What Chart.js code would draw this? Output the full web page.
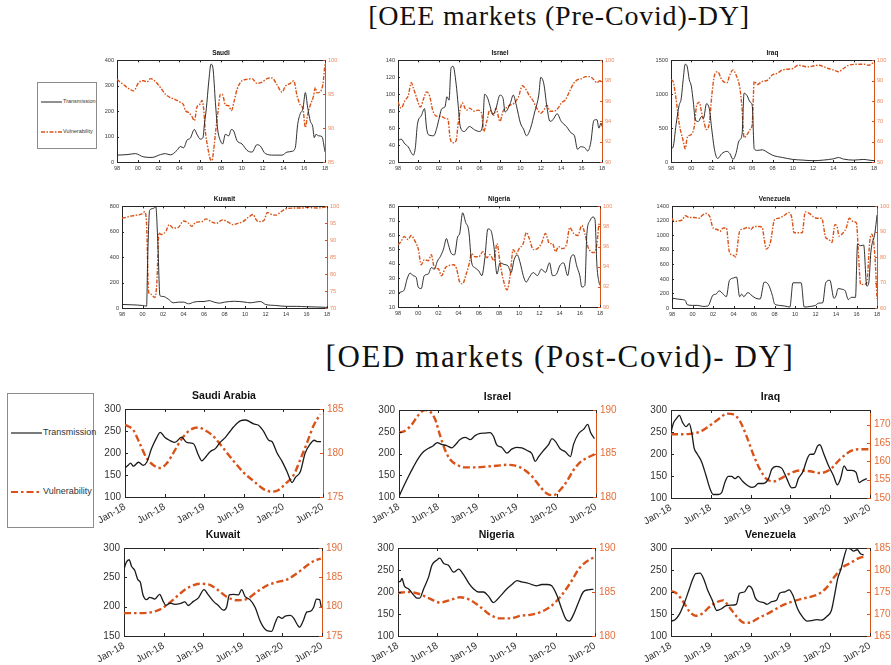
<!DOCTYPE html>
<html>
<head>
<meta charset="utf-8">
<script src="https://cdn.jsdelivr.net/npm/chart.js@4.4.1/dist/chart.umd.min.js"></script>
<style>
  body { margin: 0; width: 891px; height: 665px; background: #fff; position: relative; overflow: hidden; font-family: "Liberation Sans", Arial, sans-serif; }
  .pane { position: absolute; }
  .ttl { position: absolute; font-weight: bold; color: #111; white-space: nowrap; transform: translateX(-50%); }
  .head { position: absolute; font-family: "Liberation Serif", serif; color: #111; white-space: nowrap; transform: translateX(-50%); }
  .lg { position: absolute; border: 1px solid #8c8c8c; background: #fff; box-sizing: border-box; }
  .lg .row { position: absolute; white-space: nowrap; color: #333; }
  .lg svg { position: absolute; overflow: visible; }
</style>
</head>
<body>
<div class="head" style="left:559px;top:0px;font-size:28px;letter-spacing:0.8px;">[OEE markets (Pre-Covid)-DY]</div>
<div class="head" style="left:560px;top:339px;font-size:31px;letter-spacing:1.6px;">[OED markets (Post-Covid)- DY]</div>

<div class="lg" style="left:37px;top:82px;width:60px;height:67px;">
  <svg style="left:3px;top:18px" width="22" height="2"><line x1="0" y1="1" x2="21" y2="1" stroke="#222" stroke-width="1"/></svg>
  <div class="row" style="left:25px;top:15px;font-size:5.5px;">Transmission</div>
  <svg style="left:3px;top:48px" width="22" height="2"><line x1="0" y1="1" x2="21" y2="1" stroke="#D95319" stroke-width="1.4" stroke-dasharray="4,1.5,1.5,1.5"/></svg>
  <div class="row" style="left:25px;top:45px;font-size:5.5px;">Vulnerability</div>
</div>

<div class="lg" style="left:7px;top:393px;width:87px;height:135px;">
  <svg style="left:3px;top:38px" width="32" height="2"><line x1="0" y1="1" x2="31" y2="1" stroke="#222" stroke-width="1.2"/></svg>
  <div class="row" style="left:35px;top:33px;font-size:9px;">Transmission</div>
  <svg style="left:3px;top:97px" width="32" height="2"><line x1="0" y1="1" x2="31" y2="1" stroke="#D95319" stroke-width="2.2" stroke-dasharray="7,3,2.5,3"/></svg>
  <div class="row" style="left:35px;top:92px;font-size:9px;">Vulnerability</div>
</div>

<script>
// ---------- DATA: PRE-COVID (x = year) ----------
var oeeTickYears = [1998, 2000, 2002, 2004, 2006, 2008, 2010, 2012, 2014, 2016, 2018];
var oeeTickLabels = ['98', '00', '02', '04', '06', '08', '10', '12', '14', '16', '18'];

var saudiTrans = [[1998.0,27],[1998.96,29],[1999.76,33],[2000.56,20],[2001.37,18],[2002.17,29],[2002.65,33],[2003.13,28],[2003.77,46],[2004.09,61],[2004.41,56],[2004.73,86],[2005.05,94],[2005.44,128],[2005.69,109],[2006.01,90],[2006.27,96],[2006.4,147],[2006.59,210],[2006.81,311],[2007.04,385],[2007.23,368],[2007.46,235],[2007.68,128],[2007.94,84],[2008.16,71],[2008.42,109],[2008.74,103],[2009.0,128],[2009.22,122],[2009.54,84],[2010.02,71],[2010.5,46],[2010.98,39],[2011.46,68],[2011.78,63],[2012.26,33],[2013.06,27],[2013.87,27],[2014.35,39],[2014.83,42],[2015.15,58],[2015.37,147],[2015.63,191],[2015.88,210],[2016.11,273],[2016.33,216],[2016.59,160],[2016.81,141],[2016.97,96],[2017.13,109],[2017.39,103],[2017.7,100],[2018.0,40]];
var saudiVuln = [[1998.0,97.2],[1998.64,96.4],[1999.28,95.7],[1999.6,95.5],[2000.08,96.7],[2000.56,97.0],[2000.88,96.8],[2001.21,97.3],[2001.69,96.9],[2002.17,96.0],[2002.65,95.0],[2003.13,94.5],[2003.61,94.2],[2004.09,93.8],[2004.41,93.4],[2004.57,92.6],[2004.89,92.3],[2005.21,91.7],[2005.44,91.1],[2005.69,93.1],[2006.01,93.6],[2006.17,94.1],[2006.33,92.9],[2006.49,89.6],[2006.72,87.2],[2006.97,85.4],[2007.13,85.2],[2007.29,86.7],[2007.52,90.0],[2007.71,92.4],[2007.94,95.0],[2008.16,94.9],[2008.42,93.4],[2008.74,93.3],[2009.0,92.6],[2009.28,94.1],[2009.54,95.7],[2010.02,97.0],[2010.5,97.2],[2010.98,97.3],[2011.46,96.6],[2011.94,96.8],[2012.42,97.3],[2012.9,97.4],[2013.38,96.4],[2013.87,95.3],[2014.19,96.2],[2014.67,96.6],[2014.99,97.0],[2015.31,94.8],[2015.63,93.4],[2015.88,92.9],[2016.11,90.1],[2016.33,92.0],[2016.59,93.4],[2016.91,94.8],[2017.07,96.0],[2017.23,95.2],[2017.49,95.3],[2017.8,96.5],[2018.0,99.5]];

var israelTrans = [[1998.0,45],[1998.3,47],[1998.7,41],[1999.0,38],[1999.3,31],[1999.5,28],[1999.7,37],[1999.9,64],[2000.3,75],[2000.6,83],[2000.8,60],[2001.0,52],[2001.5,51],[2001.8,60],[2002.0,70],[2002.3,83],[2002.6,85],[2002.8,97],[2003.0,93],[2003.2,131],[2003.4,133],[2003.7,112],[2003.9,87],[2004.1,62],[2004.5,56],[2005.0,62],[2005.5,58],[2006.0,56],[2006.3,64],[2006.5,100],[2006.8,95],[2007.0,87],[2007.3,76],[2007.6,83],[2008.0,99],[2008.3,95],[2008.5,79],[2009.0,89],[2009.3,99],[2009.6,87],[2010.0,66],[2010.3,59],[2010.6,51],[2011.0,60],[2011.4,79],[2011.8,99],[2012.0,120],[2012.3,112],[2012.6,85],[2012.9,68],[2013.2,70],[2013.6,77],[2014.0,68],[2014.5,62],[2015.0,54],[2015.3,51],[2015.6,35],[2015.9,38],[2016.3,37],[2016.6,33],[2016.9,43],[2017.2,69],[2017.5,70],[2017.7,60],[2017.9,66],[2018.0,62]];
var israelVuln = [[1998.0,95.9],[1998.3,95.3],[1998.7,96.1],[1999.0,96.5],[1999.3,97.8],[1999.5,97.3],[1999.8,96.4],[2000.2,95.4],[2000.5,96.2],[2000.8,96.9],[2001.1,96.5],[2001.4,95.1],[2001.8,94.5],[2002.2,94.5],[2002.6,94.3],[2002.9,94.2],[2003.1,92.4],[2003.4,91.9],[2003.7,92.1],[2003.9,93.8],[2004.3,95.8],[2004.7,95.1],[2005.0,95.3],[2005.5,95.0],[2005.8,95.1],[2006.2,94.8],[2006.4,93.0],[2006.7,94.0],[2007.0,95.1],[2007.4,94.6],[2007.6,95.3],[2008.0,94.0],[2008.3,95.0],[2008.7,95.4],[2009.0,95.6],[2009.4,95.8],[2009.8,96.4],[2010.2,97.5],[2010.5,97.2],[2010.9,96.5],[2011.2,96.1],[2011.6,95.3],[2012.0,94.8],[2012.3,95.1],[2012.6,95.6],[2012.9,95.0],[2013.3,95.0],[2013.7,95.3],[2014.0,95.8],[2014.4,96.1],[2014.8,96.9],[2015.2,97.7],[2015.6,98.1],[2016.0,98.2],[2016.4,98.4],[2016.8,98.4],[2017.2,98.1],[2017.5,97.8],[2017.8,98.0],[2018.0,97.9]];

var iraqTrans = [[1998.0,195],[1998.2,218],[1998.5,551],[1998.8,836],[1999.0,930],[1999.2,1215],[1999.4,1443],[1999.6,1405],[1999.8,1215],[2000.0,1120],[2000.2,883],[2000.4,622],[2000.7,598],[2001.0,670],[2001.2,646],[2001.5,860],[2001.8,765],[2002.0,503],[2002.3,171],[2002.6,52],[2003.0,123],[2003.5,157],[2003.8,123],[2004.1,38],[2004.4,123],[2004.7,313],[2005.0,408],[2005.2,1016],[2005.5,978],[2005.8,883],[2006.0,836],[2006.2,195],[2006.5,171],[2007.0,180],[2007.3,161],[2008.0,100],[2009.0,66],[2010.0,38],[2011.0,28],[2012.0,19],[2013.0,28],[2014.0,47],[2014.5,66],[2015.0,43],[2016.0,28],[2017.0,38],[2017.5,28],[2018.0,19]];
var iraqVuln = [[1998.0,90.5],[1998.2,89.7],[1998.5,81.0],[1998.8,69.1],[1999.2,60.4],[1999.4,56.5],[1999.6,62.0],[2000.0,63.6],[2000.3,67.6],[2000.5,77.1],[2000.8,79.4],[2001.0,74.7],[2001.2,70.7],[2001.5,66.0],[2001.8,69.9],[2002.0,81.8],[2002.3,92.9],[2002.6,94.4],[2003.0,90.5],[2003.5,88.9],[2003.8,92.9],[2004.1,95.3],[2004.4,92.9],[2004.8,85.8],[2005.0,76.3],[2005.2,62.0],[2005.5,63.6],[2005.8,66.0],[2006.0,68.4],[2006.2,89.7],[2006.5,88.1],[2007.0,89.7],[2007.5,90.2],[2008.0,92.9],[2008.5,93.7],[2009.0,95.3],[2010.0,96.0],[2010.5,97.6],[2011.5,96.8],[2012.0,97.2],[2012.5,97.6],[2013.5,96.0],[2014.0,95.3],[2014.5,94.4],[2015.0,96.0],[2015.5,97.6],[2016.5,98.1],[2017.0,98.1],[2017.5,97.6],[2018.0,99.2]];

var kuwaitTrans = [[1998.0,28],[1999.0,25],[2000.0,20],[2000.4,15],[2000.5,376],[2000.7,770],[2001.0,782],[2001.3,795],[2001.5,503],[2001.7,97],[2002.0,91],[2002.5,71],[2003.0,41],[2003.5,46],[2004.0,46],[2004.5,33],[2005.0,46],[2005.5,51],[2006.0,51],[2006.5,58],[2007.0,46],[2007.5,38],[2008.0,46],[2009.0,53],[2010.0,46],[2010.5,41],[2011.0,46],[2011.5,51],[2012.0,28],[2013.0,20],[2014.0,13],[2015.0,13],[2016.0,10],[2017.0,8],[2018.0,5]];
var kuwaitVuln = [[1998.0,96.5],[1999.0,97.2],[2000.0,97.9],[2000.2,98.4],[2000.4,94.6],[2000.6,74.6],[2000.8,74.1],[2001.2,73.1],[2001.4,77.4],[2001.6,92.2],[2001.8,91.7],[2002.0,91.9],[2002.3,92.7],[2002.6,94.6],[2003.0,93.6],[2003.5,93.8],[2004.0,95.7],[2004.5,95.0],[2004.8,94.1],[2005.2,95.3],[2005.8,95.5],[2006.2,96.3],[2006.7,95.5],[2007.2,95.0],[2007.8,96.0],[2008.4,95.3],[2008.8,94.6],[2009.3,95.0],[2009.8,95.5],[2010.3,96.7],[2010.8,97.6],[2011.0,96.5],[2011.3,95.5],[2011.8,95.7],[2012.2,98.2],[2012.6,97.6],[2013.0,97.4],[2013.5,98.4],[2014.0,99.3],[2015.0,99.5],[2015.5,99.5],[2016.0,99.7],[2017.0,99.5],[2018.0,99.9]];

var nigeriaTrans = [[1998.0,19.4],[1998.3,20.5],[1998.6,21.7],[1998.9,29.5],[1999.2,33.6],[1999.5,31.8],[1999.8,30.6],[2000.0,23.9],[2000.3,22.8],[2000.6,31.8],[2001.0,32.9],[2001.3,37.4],[2001.6,36.3],[2001.9,41.9],[2002.2,45.2],[2002.5,50.2],[2002.8,57.6],[2003.0,53.1],[2003.3,47.0],[2003.6,46.3],[2003.9,58.7],[2004.1,60.9],[2004.4,75.5],[2004.7,68.8],[2005.0,63.2],[2005.3,40.7],[2005.6,37.4],[2006.0,35.1],[2006.3,31.8],[2006.6,44.1],[2006.9,64.3],[2007.2,63.2],[2007.5,52.0],[2007.8,32.9],[2008.1,40.7],[2008.5,39.6],[2008.9,38.5],[2009.2,34.0],[2009.5,43.0],[2009.8,46.3],[2010.1,40.7],[2010.4,31.8],[2010.7,27.3],[2011.0,30.6],[2011.4,34.0],[2011.8,31.8],[2012.2,36.3],[2012.6,34.0],[2013.0,40.7],[2013.3,31.8],[2013.7,32.9],[2014.0,38.5],[2014.4,40.7],[2014.8,31.8],[2015.1,44.1],[2015.4,46.3],[2015.7,38.5],[2016.0,31.8],[2016.2,23.9],[2016.5,25.0],[2016.7,60.9],[2017.0,69.9],[2017.3,72.6],[2017.5,71.0],[2017.7,38.5],[2017.9,27.3],[2018.0,25.0]];
var nigeriaVuln = [[1998.0,96.2],[1998.3,96.5],[1998.6,97.0],[1999.0,96.7],[1999.3,97.1],[1999.7,96.5],[2000.0,95.8],[2000.3,94.2],[2000.6,94.7],[2001.0,94.6],[2001.3,95.2],[2001.6,93.9],[2002.0,93.8],[2002.3,93.1],[2002.7,93.9],[2003.0,94.1],[2003.5,94.2],[2003.8,93.8],[2004.1,92.5],[2004.4,92.3],[2004.7,93.1],[2005.0,94.1],[2005.3,95.3],[2005.6,95.0],[2006.0,95.0],[2006.4,95.5],[2006.8,94.9],[2007.1,95.2],[2007.5,94.6],[2007.8,96.3],[2008.1,94.4],[2008.4,92.8],[2008.8,91.7],[2009.1,93.1],[2009.4,95.7],[2009.7,95.3],[2010.0,95.8],[2010.4,96.3],[2010.7,97.4],[2011.0,96.8],[2011.4,95.7],[2011.8,95.8],[2012.2,96.3],[2012.6,97.3],[2013.0,96.3],[2013.3,96.3],[2013.6,95.5],[2013.9,96.0],[2014.3,95.8],[2014.7,96.3],[2015.0,97.9],[2015.4,97.3],[2015.8,97.1],[2016.2,98.1],[2016.5,97.3],[2016.8,96.0],[2017.1,95.5],[2017.4,95.4],[2017.7,96.3],[2017.9,98.2],[2018.0,98.3]];

var venezTrans = [[1998.0,80],[1998.1,133],[1998.5,124],[1999.0,116],[1999.3,102],[1999.5,44],[2000.0,36],[2000.5,36],[2001.0,22],[2001.5,27],[2002.0,178],[2002.3,191],[2002.6,236],[2003.0,191],[2003.3,156],[2003.6,378],[2004.0,413],[2004.3,427],[2004.6,156],[2004.8,191],[2005.0,156],[2005.4,213],[2005.8,169],[2006.2,133],[2006.6,124],[2007.0,356],[2007.4,324],[2007.8,169],[2008.0,58],[2008.5,36],[2009.0,27],[2009.5,13],[2009.8,347],[2010.3,347],[2010.6,347],[2010.9,13],[2011.5,22],[2012.0,36],[2012.3,67],[2012.7,71],[2013.0,347],[2013.4,382],[2013.8,133],[2014.0,169],[2014.2,267],[2014.6,258],[2014.9,236],[2015.2,116],[2015.5,147],[2015.9,147],[2016.1,880],[2016.4,858],[2016.7,867],[2017.0,302],[2017.2,347],[2017.4,769],[2017.8,1036],[2018.0,1280]];
var venezVuln = [[1998.0,95.3],[1998.2,94.0],[1998.6,94.3],[1999.0,94.7],[1999.3,96.3],[1999.7,95.6],[2000.2,95.6],[2000.6,95.3],[2001.0,96.6],[2001.3,97.2],[2001.7,95.9],[2002.0,91.5],[2002.4,90.9],[2002.7,90.2],[2003.0,91.5],[2003.3,91.5],[2003.6,82.0],[2004.0,80.7],[2004.2,80.1],[2004.6,90.2],[2005.0,91.2],[2005.4,91.7],[2005.7,90.9],[2006.0,92.1],[2006.5,92.1],[2006.8,91.7],[2007.0,87.0],[2007.2,83.2],[2007.6,85.8],[2008.0,94.7],[2008.4,95.3],[2009.0,96.6],[2009.4,97.6],[2009.7,95.3],[2009.9,89.6],[2010.3,89.6],[2010.7,89.6],[2011.0,97.8],[2011.4,97.2],[2011.8,95.9],[2012.2,95.3],[2012.6,95.3],[2013.0,87.7],[2013.3,87.0],[2013.6,85.8],[2013.9,92.8],[2014.1,92.1],[2014.3,88.3],[2014.7,89.6],[2015.0,91.5],[2015.3,95.3],[2015.7,94.0],[2016.0,93.4],[2016.2,80.7],[2016.4,69.3],[2016.8,69.3],[2017.0,69.9],[2017.3,86.4],[2017.5,89.0],[2017.8,80.1],[2018.0,63.6]];

// ---------- DATA: POST-COVID (x = position on the tick scale, 0 = Jan-18 ... 5 = Jun-20) ----------
var oedTickLabels = ['Jan-18', 'Jun-18', 'Jan-19', 'Jun-19', 'Jan-20', 'Jun-20'];
var venezTickLabels = ['Jan-18', 'Jun-19', 'Jan-19', 'Jun-19', 'Jan-20', 'Jun-20'];

var saTrans = [[0,166],[0.08,172],[0.14,177],[0.21,170],[0.34,179],[0.46,172],[0.55,179],[0.67,210],[0.8,235],[0.89,247],[1.01,235],[1.14,228],[1.26,224],[1.43,236],[1.56,224],[1.73,221],[1.85,196],[1.94,182],[2.02,189],[2.15,203],[2.28,210],[2.4,224],[2.53,235],[2.66,250],[2.74,259],[2.91,273],[3.04,275],[3.25,266],[3.37,263],[3.5,249],[3.63,229],[3.71,226],[3.84,200],[3.96,182],[4.09,158],[4.22,133],[4.3,144],[4.43,158],[4.55,200],[4.68,221],[4.78,229],[4.85,226],[4.95,226]];
var saVuln = [[0,183.2],[0.21,182.6],[0.38,181.0],[0.55,179.4],[0.72,178.6],[0.89,178.3],[1.05,178.8],[1.22,180.0],[1.43,181.6],[1.64,182.6],[1.85,182.9],[2.02,182.6],[2.23,181.9],[2.49,180.5],[2.74,179.1],[2.99,177.8],[3.25,176.8],[3.5,175.9],[3.71,175.6],[3.88,175.8],[4.05,176.5],[4.26,177.5],[4.43,179.3],[4.6,181.2],[4.76,183.1],[4.93,184.4]];

var ilTrans = [[0,101],[0.11,123],[0.24,147],[0.36,168],[0.49,189],[0.62,204],[0.75,212],[0.87,218],[0.97,225],[1.08,221],[1.21,218],[1.34,213],[1.42,219],[1.55,232],[1.68,237],[1.81,232],[1.93,241],[2.06,246],[2.19,247],[2.31,248],[2.4,239],[2.48,220],[2.61,214],[2.74,201],[2.86,210],[2.99,214],[3.12,213],[3.25,207],[3.37,200],[3.46,182],[3.54,192],[3.67,207],[3.8,221],[3.88,234],[3.97,228],[4.09,211],[4.22,204],[4.35,193],[4.43,221],[4.56,246],[4.69,256],[4.79,267],[4.86,249],[4.96,234]];
var ilVuln = [[0,187.4],[0.15,187.6],[0.32,188.3],[0.49,189.4],[0.66,190.0],[0.79,189.8],[0.92,188.9],[1.04,187.1],[1.17,185.4],[1.3,184.3],[1.47,183.7],[1.68,183.4],[1.93,183.4],[2.23,183.5],[2.48,183.6],[2.74,183.7],[2.95,183.6],[3.16,183.2],[3.37,182.4],[3.58,181.2],[3.75,180.4],[3.92,180.2],[4.09,180.8],[4.26,181.8],[4.43,183.1],[4.6,184.0],[4.77,184.5],[4.96,184.9]];

var iqTrans = [[0,249],[0.06,270],[0.14,281],[0.21,288],[0.29,272],[0.38,262],[0.46,269],[0.52,249],[0.58,214],[0.66,200],[0.77,182],[0.88,151],[0.98,121],[1.06,108],[1.19,108],[1.27,112],[1.36,137],[1.44,149],[1.52,149],[1.61,144],[1.69,149],[1.78,140],[1.9,130],[2.03,124],[2.11,126],[2.19,133],[2.32,133],[2.45,144],[2.53,165],[2.65,172],[2.78,168],[2.91,144],[3.03,123],[3.12,124],[3.2,144],[3.32,161],[3.41,186],[3.49,199],[3.59,200],[3.68,218],[3.74,221],[3.84,200],[3.95,175],[4.08,151],[4.18,130],[4.26,144],[4.35,173],[4.43,163],[4.54,163],[4.65,158],[4.73,135],[4.82,140],[4.92,144]];
var iqVuln = [[0,167.4],[0.23,167.4],[0.48,167.5],[0.73,168.1],[0.98,169.8],[1.23,171.8],[1.4,173.0],[1.57,172.8],[1.73,171.0],[1.9,166.8],[2.07,161.8],[2.24,157.7],[2.4,155.2],[2.57,154.5],[2.74,155.2],[2.99,156.7],[3.24,157.5],[3.49,157.3],[3.74,156.8],[3.99,157.7],[4.25,160.6],[4.5,162.7],[4.71,163.3],[4.96,163.3]];

var kwTrans = [[0,264],[0.06,276],[0.13,280],[0.19,269],[0.27,262],[0.35,246],[0.41,242],[0.48,220],[0.57,212],[0.65,216],[0.78,213],[0.9,221],[0.99,209],[1.06,202],[1.16,206],[1.28,204],[1.41,205],[1.54,208],[1.62,202],[1.75,209],[1.88,215],[2.02,229],[2.13,220],[2.26,209],[2.38,202],[2.51,194],[2.59,199],[2.66,220],[2.76,221],[2.89,220],[2.97,229],[3.06,217],[3.18,212],[3.31,199],[3.44,175],[3.52,165],[3.61,159],[3.73,158],[3.82,173],[3.9,183],[3.99,180],[4.07,184],[4.2,185],[4.28,181],[4.37,170],[4.43,165],[4.52,175],[4.62,191],[4.7,192],[4.79,199],[4.86,213],[4.94,212],[4.98,199]];
var kwVuln = [[0,178.9],[0.31,178.9],[0.65,179.0],[0.9,179.5],[1.16,180.7],[1.41,182.2],[1.66,183.4],[1.92,183.9],[2.13,183.8],[2.34,183.0],[2.59,181.7],[2.85,181.1],[3.1,181.3],[3.35,182.5],[3.61,183.6],[3.86,184.2],[4.11,184.6],[4.37,185.7],[4.62,187.0],[4.83,187.9],[4.97,188.2]];

var ngTrans = [[0,223],[0.06,224],[0.1,231],[0.16,214],[0.27,207],[0.4,193],[0.48,186],[0.55,186],[0.65,207],[0.78,235],[0.86,261],[0.99,273],[1.06,277],[1.16,265],[1.28,261],[1.41,245],[1.54,252],[1.66,240],[1.79,221],[1.92,207],[2.04,200],[2.17,200],[2.3,190],[2.42,176],[2.59,190],[2.76,207],[2.89,217],[3.02,226],[3.14,223],[3.27,221],[3.4,217],[3.52,214],[3.65,217],[3.78,217],[3.9,214],[4.03,193],[4.16,160],[4.27,137],[4.35,134],[4.45,148],[4.58,176],[4.7,200],[4.83,205],[4.96,206]];
var ngVuln = [[0,184.9],[0.27,185.0],[0.52,184.8],[0.78,184.3],[1.07,183.8],[1.33,184.1],[1.58,184.4],[1.83,184.1],[2.09,183.3],[2.34,182.4],[2.59,182.0],[2.85,182.0],[3.1,182.3],[3.35,182.4],[3.61,182.7],[3.86,183.3],[4.11,184.4],[4.37,186.0],[4.62,187.8],[4.87,188.7],[4.96,188.9]];

var veTrans = [[0,134],[0.1,137],[0.22,151],[0.34,176],[0.46,207],[0.54,228],[0.62,242],[0.73,243],[0.83,228],[0.91,207],[1.03,183],[1.15,158],[1.27,162],[1.39,169],[1.52,170],[1.64,172],[1.72,197],[1.84,200],[1.96,214],[2.04,207],[2.12,186],[2.2,179],[2.33,176],[2.41,172],[2.53,178],[2.65,181],[2.73,197],[2.85,200],[2.97,205],[3.06,193],[3.18,162],[3.3,144],[3.42,134],[3.54,135],[3.66,137],[3.78,136],[3.91,144],[4.03,158],[4.11,193],[4.19,231],[4.27,252],[4.35,280],[4.43,300],[4.51,298],[4.59,293],[4.68,296],[4.76,287],[4.84,284]];
var veVuln = [[0,175.2],[0.14,174.7],[0.3,172.9],[0.46,170.6],[0.62,169.6],[0.79,170.1],[0.95,171.5],[1.15,172.7],[1.31,173.1],[1.47,171.5],[1.68,169.1],[1.84,168.0],[2.0,168.1],[2.2,169.1],[2.41,170.0],[2.61,171.0],[2.81,172.0],[3.01,172.7],[3.26,173.4],[3.5,173.9],[3.7,174.5],[3.91,176.0],[4.11,178.5],[4.31,180.6],[4.51,181.6],[4.72,182.7],[4.84,183.0]];

// ---------- PANELS ----------
var ORANGE = '#D95319';
var AXIS = '#262626';

var small = { L: 24, R: 22, T: 3, B: 14, font: 5.6, tw: 0.9, vw: 1.4, dash: [4, 1.5, 1.5, 1.5], tick: 2, rot: 0, titleSize: 6.5, rcol: '#ec8a60', lcol: '#3a3a3a', xpad: 3, ypad: 3 };
var big = { L: 32, R: 30, T: 3, B: 40, font: 10, tw: 1.3, vw: 2.4, dash: [7, 3, 2.5, 3], tick: 3, rot: 30, titleSize: 10.5, rcol: '#e46e3a', lcol: '#333', xpad: 4, ypad: 4 };

var panels = [
  { title: 'Saudi', box: [117, 57, 208, 105], s: small, trans: saudiTrans, vuln: saudiVuln, yl: [0, 100, 200, 300, 400], yr: [85, 90, 95, 100] },
  { title: 'Israel', box: [398, 57, 204, 105], s: small, trans: israelTrans, vuln: israelVuln, yl: [20, 40, 60, 80, 100, 120, 140], yr: [90, 92, 94, 96, 98, 100] },
  { title: 'Iraq', box: [671, 57, 203, 105], s: small, trans: iraqTrans, vuln: iraqVuln, yl: [0, 500, 1000, 1500], yr: [50, 60, 70, 80, 90, 100] },
  { title: 'Kuwait', box: [122, 203, 205, 105], s: small, trans: kuwaitTrans, vuln: kuwaitVuln, yl: [0, 200, 400, 600, 800], yr: [70, 75, 80, 85, 90, 95, 100] },
  { title: 'Nigeria', box: [398, 203, 202, 104], s: small, trans: nigeriaTrans, vuln: nigeriaVuln, yl: [10, 20, 30, 40, 50, 60, 70, 80], yr: [90, 92, 94, 96, 98, 100] },
  { title: 'Venezuela', box: [672, 203, 205, 105], s: small, trans: venezTrans, vuln: venezVuln, yl: [0, 200, 400, 600, 800, 1000, 1200, 1400], yr: [60, 70, 80, 90, 100] },
  { title: 'Saudi Arabia', box: [125, 402, 198, 95], s: big, trans: saTrans, vuln: saVuln, yl: [100, 150, 200, 250, 300], yr: [175, 180, 185] },
  { title: 'Israel', box: [399, 403, 197, 94], s: big, trans: ilTrans, vuln: ilVuln, yl: [100, 150, 200, 250, 300], yr: [180, 185, 190] },
  { title: 'Iraq', box: [671, 403, 199, 95], s: big, trans: iqTrans, vuln: iqVuln, yl: [100, 150, 200, 250, 300], yr: [150, 155, 160, 165, 170], yrMax: 174 },
  { title: 'Kuwait', box: [124, 541, 198, 95], s: big, trans: kwTrans, vuln: kwVuln, yl: [150, 200, 250, 300], yr: [175, 180, 185, 190] },
  { title: 'Nigeria', box: [398, 541, 197, 95], s: big, trans: ngTrans, vuln: ngVuln, yl: [100, 150, 200, 250, 300], yr: [180, 185, 190] },
  { title: 'Venezuela', box: [671, 541, 199, 95], s: big, trans: veTrans, vuln: veVuln, yl: [100, 150, 200, 250, 300], yr: [165, 170, 175, 180, 185], xLabels: venezTickLabels }
];

// INWARD TICKS AND TOP EDGE OF THE BOX
var boxFrame = {
  id: 'boxFrame',
  afterDraw: function (chart, args, opts) {
    var c = chart.ctx, a = chart.chartArea, len = opts.len;
    c.save();
    c.lineWidth = 1;
    c.strokeStyle = AXIS;
    c.beginPath();
    c.moveTo(a.left, Math.round(a.top) + 0.5);
    c.lineTo(a.right, Math.round(a.top) + 0.5);
    var sx = chart.scales.x;
    sx.ticks.forEach(function (t) {
      var px = Math.round(sx.getPixelForValue(t.value)) + 0.5;
      c.moveTo(px, a.bottom); c.lineTo(px, a.bottom - len);
      c.moveTo(px, a.top); c.lineTo(px, a.top + len);
    });
    var sy = chart.scales.y;
    sy.ticks.forEach(function (t) {
      var py = Math.round(sy.getPixelForValue(t.value)) + 0.5;
      c.moveTo(a.left, py); c.lineTo(a.left + len, py);
    });
    c.stroke();
    c.strokeStyle = ORANGE;
    c.beginPath();
    var sr = chart.scales.y2;
    sr.ticks.forEach(function (t) {
      var py = Math.round(sr.getPixelForValue(t.value)) + 0.5;
      c.moveTo(a.right, py); c.lineTo(a.right - len, py);
    });
    c.stroke();
    c.restore();
  }
};

function fixedTicks(list) {
  return function (scale) { scale.ticks = list.map(function (v) { return { value: v }; }); };
}

function plainLabel(v) { return String(v); }

function toPoints(list) {
  return list.map(function (p) { return { x: p[0], y: p[1] }; });
}

function makePanel(p) {
  var s = p.s, b = p.box;
  var isOld = s === small;
  var xVals = isOld ? oeeTickYears : [0, 1, 2, 3, 4, 5];
  var xLabels = isOld ? oeeTickLabels : (p.xLabels || oedTickLabels);

  var w = b[2] + s.L + s.R, h = b[3] + s.T + s.B;
  var holder = document.createElement('div');
  holder.className = 'pane';
  holder.style.left = (b[0] - s.L) + 'px';
  holder.style.top = (b[1] - s.T) + 'px';
  var cv = document.createElement('canvas');
  cv.width = w; cv.height = h;
  cv.style.width = w + 'px'; cv.style.height = h + 'px';
  holder.appendChild(cv);
  document.body.appendChild(holder);

  var ttl = document.createElement('div');
  ttl.className = 'ttl';
  ttl.textContent = p.title;
  ttl.style.fontSize = s.titleSize + 'px';
  ttl.style.left = (b[0] + b[2] / 2) + 'px';
  ttl.style.top = (b[1] - s.titleSize * 1.25) + 'px';
  document.body.appendChild(ttl);

  var tickFont = { family: '"Liberation Sans", Arial, sans-serif', size: s.font };
  var noGrid = { display: false, drawTicks: false, tickLength: 0 };

  new Chart(cv.getContext('2d'), {
    type: 'line',
    data: {
      datasets: [
        { label: 'Transmission', data: toPoints(p.trans), yAxisID: 'y', borderColor: '#1a1a1a', borderWidth: s.tw, pointRadius: 0, cubicInterpolationMode: 'monotone', fill: false },
        { label: 'Vulnerability', data: toPoints(p.vuln), yAxisID: 'y2', borderColor: ORANGE, borderWidth: s.vw, borderDash: s.dash, pointRadius: 0, cubicInterpolationMode: 'monotone', fill: false }
      ]
    },
    options: {
      responsive: false,
      animation: false,
      events: [],
      layout: { padding: { top: s.T, left: 0, right: 0, bottom: 0 } },
      plugins: { legend: { display: false }, tooltip: { enabled: false }, boxFrame: { len: s.tick } },
      scales: {
        x: {
          type: 'linear', min: xVals[0], max: xVals[xVals.length - 1],
          afterBuildTicks: fixedTicks(xVals),
          afterFit: function (sc) { sc.height = s.B; },
          grid: noGrid,
          border: { display: true, color: AXIS },
          ticks: {
            font: tickFont, color: s.lcol, padding: s.xpad, autoSkip: false,
            minRotation: s.rot, maxRotation: s.rot,
            callback: function (v, i) { return xLabels[i]; }
          }
        },
        y: {
          position: 'left', min: p.yl[0], max: p.yl[p.yl.length - 1],
          afterBuildTicks: fixedTicks(p.yl),
          afterFit: function (sc) { sc.width = s.L; },
          grid: noGrid,
          border: { display: true, color: AXIS },
          ticks: { font: tickFont, color: s.lcol, padding: s.ypad, callback: plainLabel }
        },
        y2: {
          position: 'right', min: p.yr[0], max: p.yrMax || p.yr[p.yr.length - 1],
          afterBuildTicks: fixedTicks(p.yr),
          afterFit: function (sc) { sc.width = s.R; },
          grid: noGrid,
          border: { display: true, color: ORANGE },
          ticks: { font: tickFont, color: s.rcol, padding: s.ypad, callback: plainLabel }
        }
      }
    },
    plugins: [boxFrame]
  });
}

panels.forEach(makePanel);
</script>
</body>
</html>
